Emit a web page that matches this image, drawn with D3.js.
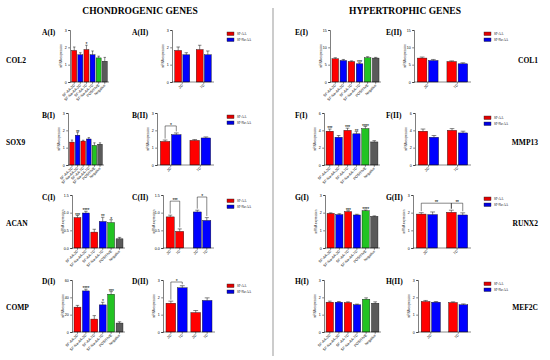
<!DOCTYPE html>
<html>
<head>
<meta charset="utf-8">
<script src="https://cdn.jsdelivr.net/npm/d3@7"></script>
<style>
body { margin: 0; background: #fff; }
svg { display: block; }
</style>
</head>
<body>
<div id="fig"></div>
<script>
// categories
var groups6 = ["SF-AA-3D", "SF-Na-AA-3D", "SF-AA-7D", "SF-Na-AA-7D", "POSITIVE", "Negative"];
var days = ["3D", "7D"];
var series = ["SF-AA", "SF-Na-AA"];
var colors6 = ["#ff0000", "#0000ff", "#ff0000", "#0000ff", "#22c322", "#5a5a5a"];
var colorsPair = ["#ff0000", "#0000ff", "#ff0000", "#0000ff"];
var colorsByDay = ["#ff0000", "#ff0000", "#0000ff", "#0000ff"];

// y ticks
var ticks3 = [0, 1, 2, 3];
var ticks15 = [0, 0.5, 1, 1.5];
var ticks60 = [0, 20, 40, 60];
var ticksE = [0, 5, 10, 15];
var ticks6 = [0, 2, 4, 6];

// chondrogenic genes
var col2Mean = [1.82, 1.57, 1.87, 1.57, 1.39, 1.2];
var col2Err = [0.2, 0.12, 0.25, 0.22, 0.1, 0.22];
var col2Stars = ["", "", "*", "", "", ""];
var col2DayMean = [1.82, 1.57, 1.87, 1.57];
var col2DayErr = [0.2, 0.12, 0.25, 0.22];

var sox9Mean = [1.32, 1.72, 1.38, 1.5, 1.13, 1.2];
var sox9Err = [0.12, 0.15, 0.05, 0.08, 0.15, 0.08];
var sox9Stars = ["", "**", "", "", "", ""];
var sox9DayMean = [1.36, 1.75, 1.42, 1.56];
var sox9DayErr = [0.08, 0.1, 0.05, 0.06];

var acanMean = [0.86, 0.99, 0.45, 0.75, 0.72, 0.26];
var acanErr = [0.06, 0.05, 0.08, 0.12, 0.08, 0.04];
var acanStars = ["***", "****", "", "**", "*", ""];
var acanDayMean = [0.88, 0.47, 1.02, 0.78];
var acanDayErr = [0.05, 0.07, 0.05, 0.08];

var compMean = [28.7, 47.4, 14.9, 31.3, 43.6, 10.3];
var compErr = [2, 2, 4, 3, 3, 1.5];
var compStars = ["", "****", "", "*", "***", ""];
var compDayMean = [1.66, 2.55, 1.12, 1.82];
var compDayErr = [0.12, 0.12, 0.12, 0.15];

// hypertrophic genes
var col1Mean = [6.7, 6.2, 5.9, 5.25, 7.0, 6.9];
var col1Err = [0.3, 0.3, 0.2, 0.3, 0.3, 0.2];
var col1Stars = ["", "", "", "***", "", ""];
var col1DayMean = [6.9, 6.2, 5.9, 5.25];
var col1DayErr = [0.3, 0.3, 0.2, 0.3];

var mmp13Mean = [3.9, 3.2, 4.0, 3.6, 4.2, 2.66];
var mmp13Err = [0.25, 0.2, 0.25, 0.25, 0.25, 0.15];
var mmp13Stars = ["***", "", "***", "**", "****", ""];
var mmp13DayMean = [3.9, 3.2, 4.0, 3.7];
var mmp13DayErr = [0.25, 0.2, 0.2, 0.2];

var runx2Mean = [1.96, 1.89, 2.06, 1.87, 2.11, 1.79];
var runx2Err = [0.03, 0.05, 0.05, 0.04, 0.04, 0.03];
var runx2Stars = ["", "", "***", "", "****", ""];
var runx2DayMean = [1.92, 1.89, 2.02, 1.87];
var runx2DayErr = [0.08, 0.15, 0.12, 0.12];

var mef2cMean = [1.72, 1.72, 1.70, 1.57, 1.89, 1.66];
var mef2cErr = [0.06, 0.04, 0.04, 0.04, 0.08, 0.08];
var mef2cStars = ["", "", "", "", "", ""];
var mef2cDayMean = [1.76, 1.72, 1.70, 1.57];
var mef2cDayErr = [0.06, 0.04, 0.04, 0.05];

var svg = d3.select("#fig").append("svg")
    .attr("width", 550)
    .attr("height", 360);

var serif = "'Liberation Serif', 'Times New Roman', serif";
var sans = "'Liberation Sans', Arial, sans-serif";

function fmt1(d) { return d3.format(".1f")(d); }

function panel(p) {
    var g = svg.append("g");
    var y = d3.scaleLinear().domain([0, p.ticks[p.ticks.length - 1]]).range([p.bottom, p.top]);
    var n = p.mean.length;
    var xs = [], bw, labelX = [], labels;

    if (n === 6) {
        var x = d3.scaleBand().domain(d3.range(6)).range([p.left + 1, p.right]).paddingInner(0.18).paddingOuter(0.12);
        bw = x.bandwidth();
        xs = d3.range(6).map(function(i) { return x(i); });
        labelX = xs.map(function(v) { return v + bw / 2; });
        labels = groups6;
    } else {
        var gx = d3.scaleBand().domain([0, 1]).range([p.left + 1, p.right]).paddingInner(p.gap || 0.3).paddingOuter(0.08);
        var ix = d3.scaleBand().domain([0, 1]).range([0, gx.bandwidth()]).paddingInner(0.15);
        bw = ix.bandwidth();
        xs = d3.range(4).map(function(i) { return gx(Math.floor(i / 2)) + ix(i % 2); });
        if (p.perBar) {
            labelX = xs.map(function(v) { return v + bw / 2; });
            labels = [days[0], days[1], days[0], days[1]];
        } else {
            labelX = [0, 1].map(function(k) { return gx(k) + gx.bandwidth() / 2; });
            labels = days;
        }
    }

    // bars
    g.selectAll("rect.bar")
        .data(p.mean)
        .enter().append("rect")
        .attr("class", "bar")
        .attr("x", function(d, i) { return xs[i]; })
        .attr("y", function(d) { return y(d); })
        .attr("width", bw)
        .attr("height", function(d) { return p.bottom - y(d); })
        .attr("fill", function(d, i) { return p.colors[i]; })
        .attr("stroke", "#111")
        .attr("stroke-width", 0.4);

    // error bars
    var eb = g.selectAll("g.err")
        .data(p.mean)
        .enter().append("g")
        .attr("class", "err")
        .attr("stroke", "#111")
        .attr("stroke-width", 0.5);
    eb.append("line")
        .attr("x1", function(d, i) { return xs[i] + bw / 2; })
        .attr("x2", function(d, i) { return xs[i] + bw / 2; })
        .attr("y1", function(d) { return y(d); })
        .attr("y2", function(d, i) { return y(d + p.err[i]); });
    eb.append("line")
        .attr("x1", function(d, i) { return xs[i] + bw * 0.25; })
        .attr("x2", function(d, i) { return xs[i] + bw * 0.75; })
        .attr("y1", function(d, i) { return y(d + p.err[i]); })
        .attr("y2", function(d, i) { return y(d + p.err[i]); });

    // stars
    if (p.stars) {
        g.selectAll("text.star")
            .data(p.stars)
            .enter().append("text")
            .attr("x", function(d, i) { return xs[i] + bw / 2; })
            .attr("y", function(d, i) { return y(p.mean[i] + p.err[i]) + 1.2; })
            .attr("text-anchor", "middle")
            .attr("font-family", sans)
            .attr("font-size", 5)
            .attr("letter-spacing", -0.3)
            .text(function(d) { return d; });
    }

    // brackets
    (p.brackets || []).forEach(function(b) {
        var top = Math.min(y(p.mean[b[0]] + p.err[b[0]]), y(p.mean[b[1]] + p.err[b[1]]));
        var by = Math.max(p.top + 2, top - (p.lift || 7));
        var xa = xs[b[0]] + bw / 2, xb = xs[b[1]] + bw / 2;
        g.append("path")
            .attr("d", "M" + xa + "," + (y(p.mean[b[0]] + p.err[b[0]]) - 1.5) + "V" + by + "H" + xb + "V" + (y(p.mean[b[1]] + p.err[b[1]]) - 1.5))
            .attr("fill", "none")
            .attr("stroke", "#111")
            .attr("stroke-width", 0.5);
        g.append("text")
            .attr("x", (xa + xb) / 2)
            .attr("y", by + 0.8)
            .attr("text-anchor", "middle")
            .attr("font-family", sans)
            .attr("font-size", 5)
            .attr("letter-spacing", -0.3)
            .text(b[2]);
    });

    // y axis
    var ya = g.append("g")
        .attr("transform", "translate(" + p.left + ",0)")
        .call(d3.axisLeft(y).tickValues(p.ticks).tickSize(1.8).tickPadding(1.5).tickFormat(p.fmt || d3.format("d")));
    ya.select(".domain").attr("stroke-width", 0.5);
    ya.selectAll(".tick line").attr("stroke-width", 0.5);
    ya.selectAll("text").attr("font-size", 3.6).attr("font-family", sans);

    g.append("text")
        .attr("transform", "translate(" + (p.left - 8.5) + "," + ((p.top + p.bottom) / 2) + ") rotate(-90)")
        .attr("text-anchor", "middle")
        .attr("font-family", sans)
        .attr("font-size", 3)
        .attr("fill", "#333")
        .text("mRNA expression");

    // x axis
    g.append("line")
        .attr("x1", p.left).attr("x2", p.right + 1)
        .attr("y1", p.bottom).attr("y2", p.bottom)
        .attr("stroke", "#111").attr("stroke-width", 0.5);
    labelX.forEach(function(cx, i) {
        g.append("line")
            .attr("x1", cx).attr("x2", cx)
            .attr("y1", p.bottom).attr("y2", p.bottom + 1.8)
            .attr("stroke", "#111").attr("stroke-width", 0.5);
        g.append("text")
            .attr("transform", "translate(" + (cx + 1) + "," + (p.bottom + 3.5) + ") rotate(-45)")
            .attr("text-anchor", "end")
            .attr("font-family", sans)
            .attr("font-size", 3.6)
            .text(labels[i]);
    });

    // panel label
    svg.append("text")
        .attr("x", p.lx).attr("y", p.ly)
        .attr("font-family", serif)
        .attr("font-weight", "bold")
        .attr("font-size", 7.5)
        .text(p.name);
}

function legend(x, y0) {
    series.forEach(function(s, i) {
        svg.append("rect")
            .attr("x", x).attr("y", y0 + i * 6)
            .attr("width", 7).attr("height", 3.5)
            .attr("fill", i === 0 ? "#e00000" : "#0000e0")
            .attr("stroke", "#222").attr("stroke-width", 0.4);
        svg.append("text")
            .attr("x", x + 10).attr("y", y0 + i * 6 + 3)
            .attr("font-family", serif)
            .attr("font-size", 3.2)
            .text(s);
    });
}

function gene(text, x, y, anchor) {
    svg.append("text")
        .attr("x", x).attr("y", y)
        .attr("text-anchor", anchor)
        .attr("font-family", serif)
        .attr("font-weight", "bold")
        .attr("font-size", 7.5)
        .text(text);
}

// titles and divider
svg.append("text").attr("x", 140).attr("y", 14).attr("text-anchor", "middle")
    .attr("font-family", serif).attr("font-weight", "bold").attr("font-size", 9.5).text("CHONDROGENIC GENES");
svg.append("text").attr("x", 405).attr("y", 14).attr("text-anchor", "middle")
    .attr("font-family", serif).attr("font-weight", "bold").attr("font-size", 9.5).text("HYPERTROPHIC GENES");
svg.append("line").attr("x1", 273).attr("x2", 273).attr("y1", 8).attr("y2", 356)
    .attr("stroke", "#999").attr("stroke-width", 1);

var rows = [
    { top: 30, bottom: 82 },
    { top: 113, bottom: 165 },
    { top: 195, bottom: 248 },
    { top: 280, bottom: 332 }
];

// left column
panel({ name: "A(I)", lx: 42, ly: 35, left: 70, right: 108, top: rows[0].top, bottom: rows[0].bottom, ticks: ticks3, mean: col2Mean, err: col2Err, stars: col2Stars, colors: colors6 });
panel({ name: "A(II)", lx: 132, ly: 35, left: 172, right: 213, top: rows[0].top, bottom: rows[0].bottom, ticks: ticks3, mean: col2DayMean, err: col2DayErr, colors: colorsPair });
panel({ name: "B(I)", lx: 42, ly: 118, left: 68, right: 103, top: rows[1].top, bottom: rows[1].bottom, ticks: ticks3, mean: sox9Mean, err: sox9Err, stars: sox9Stars, colors: colors6 });
panel({ name: "B(II)", lx: 132, ly: 118, left: 157, right: 213, top: rows[1].top, bottom: rows[1].bottom, ticks: ticks3, mean: sox9DayMean, err: sox9DayErr, colors: colorsPair, brackets: [[0, 1, "*"]] });
panel({ name: "C(I)", lx: 42, ly: 200, left: 72, right: 124, top: rows[2].top, bottom: rows[2].bottom, ticks: ticks15, fmt: fmt1, mean: acanMean, err: acanErr, stars: acanStars, colors: colors6 });
panel({ name: "C(II)", lx: 132, ly: 200, left: 163, right: 213, top: rows[2].top, bottom: rows[2].bottom, ticks: ticks15, fmt: fmt1, mean: acanDayMean, err: acanDayErr, colors: colorsByDay, perBar: true, gap: 0.35, lift: 14, brackets: [[0, 1, "***"], [2, 3, "*"]] });
panel({ name: "D(I)", lx: 42, ly: 284, left: 72, right: 124, top: rows[3].top, bottom: rows[3].bottom, ticks: ticks60, mean: compMean, err: compErr, stars: compStars, colors: colors6 });
panel({ name: "D(II)", lx: 132, ly: 284, left: 163, right: 214, top: rows[3].top, bottom: rows[3].bottom, ticks: ticks3, mean: compDayMean, err: compDayErr, colors: colorsPair, perBar: true, gap: 0.15, brackets: [[0, 1, "*"]] });

// right column
panel({ name: "E(I)", lx: 295, ly: 35, left: 330, right: 380, top: rows[0].top, bottom: rows[0].bottom, ticks: ticksE, mean: col1Mean, err: col1Err, stars: col1Stars, colors: colors6 });
panel({ name: "E(II)", lx: 386, ly: 35, left: 414, right: 470, top: rows[0].top, bottom: rows[0].bottom, ticks: ticksE, mean: col1DayMean, err: col1DayErr, colors: colorsPair });
panel({ name: "F(I)", lx: 295, ly: 118, left: 324, right: 379, top: rows[1].top, bottom: rows[1].bottom, ticks: ticks6, mean: mmp13Mean, err: mmp13Err, stars: mmp13Stars, colors: colors6 });
panel({ name: "F(II)", lx: 386, ly: 118, left: 415, right: 470, top: rows[1].top, bottom: rows[1].bottom, ticks: ticks6, mean: mmp13DayMean, err: mmp13DayErr, colors: colorsPair });
panel({ name: "G(I)", lx: 295, ly: 200, left: 325, right: 379, top: rows[2].top, bottom: rows[2].bottom, ticks: ticks3, mean: runx2Mean, err: runx2Err, stars: runx2Stars, colors: colors6 });
panel({ name: "G(II)", lx: 386, ly: 200, left: 413, right: 470, top: rows[2].top, bottom: rows[2].bottom, ticks: ticks3, mean: runx2DayMean, err: runx2DayErr, colors: colorsPair, brackets: [[0, 2, "**"], [2, 3, "**"]] });
panel({ name: "H(I)", lx: 295, ly: 284, left: 324, right: 380, top: rows[3].top, bottom: rows[3].bottom, ticks: ticks3, mean: mef2cMean, err: mef2cErr, stars: mef2cStars, colors: colors6 });
panel({ name: "H(II)", lx: 386, ly: 284, left: 418, right: 470, top: rows[3].top, bottom: rows[3].bottom, ticks: ticks3, mean: mef2cDayMean, err: mef2cDayErr, colors: colorsPair });

// legends
legend(227, rows[0].top + 2);
legend(227, rows[1].top + 2);
legend(227, rows[2].top + 4);
legend(227, rows[3].top + 4);
legend(484, rows[0].top + 2);
legend(484, rows[1].top + 3);
legend(484, rows[2].top + 2);
legend(484, rows[3].top + 2);

// gene names
gene("COL2", 6, 63, "start");
gene("SOX9", 6, 145, "start");
gene("ACAN", 6, 226, "start");
gene("COMP", 6, 310, "start");
gene("COL1", 538, 63, "end");
gene("MMP13", 538, 145, "end");
gene("RUNX2", 538, 226, "end");
gene("MEF2C", 538, 310, "end");
</script>
</body>
</html>
